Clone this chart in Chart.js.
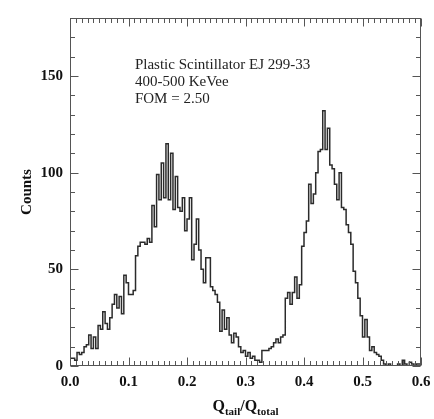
<!DOCTYPE html>
<html>
<head>
<meta charset="utf-8">
<script src="https://cdn.jsdelivr.net/npm/chart.js@4.4.0/dist/chart.umd.min.js"></script>
<style>
  html, body { margin: 0; padding: 0; background: #fff; }
  canvas { display: block; }
</style>
</head>
<body>
<canvas id="psd" width="434" height="419"></canvas>
<script>
// PSD histogram, EJ 299-33, 400-500 keVee
const BIN_WIDTH = 0.004;   // Q_tail/Q_total bin width
const counts = [
  4, 4, 4, 3, 7, 6, 7, 10, 11, 16,
  9, 15, 9, 21, 19, 28, 22, 19, 25, 32,
  37, 30, 36, 27, 47, 43, 37, 37, 39, 57,
  62, 64, 64, 63, 66, 64, 83, 72, 99, 86,
  105, 87, 115, 86, 110, 81, 98, 82, 80, 87,
  70, 76, 87, 55, 63, 76, 60, 50, 43, 56,
  56, 41, 39, 37, 33, 18, 29, 19, 25, 16,
  12, 17, 15, 10, 7, 8, 5, 7, 4, 5,
  3, 3, 2, 8, 8, 8, 9, 10, 12, 14,
  12, 15, 16, 35, 38, 32, 38, 46, 35, 42,
  62, 69, 75, 94, 84, 89, 100, 111, 112, 132,
  112, 123, 104, 102, 94, 86, 100, 82, 81, 73,
  69, 63, 49, 43, 35, 26, 15, 24, 15, 8,
  10, 7, 6, 5, 3, 1, 0, 1, 0, 0,
  0, 1, 0, 3, 1, 0, 2, 1, 0, 1
];
const xTicks = [0, 0.1, 0.2, 0.3, 0.4, 0.5, 0.6];
const yTicks = [0, 50, 100, 150];
const noteLines = ['Plastic Scintillator EJ 299-33', '400-500 KeVee', 'FOM = 2.50'];

const AXIS_COLOR = '#555';
const LINE_COLOR = '#2b2b2b';
const SERIF = '"Liberation Serif", "Times New Roman", serif';

// step points: left edge of each bin, plus closing edge
const points = counts.map((c, i) => ({ x: i * BIN_WIDTH, y: c }));
points.push({ x: counts.length * BIN_WIDTH, y: counts[counts.length - 1] });

const boxTicks = {
  id: 'boxTicks',
  afterDraw(chart) {
    const { ctx, chartArea: a, scales: { x, y } } = chart;
    const L = Math.round(a.left) + 0.5, R = Math.round(a.right) - 0.5;
    const T = Math.round(a.top) + 0.5, B = Math.round(a.bottom) - 0.5;
    ctx.save();
    ctx.strokeStyle = AXIS_COLOR;
    ctx.lineWidth = 1;
    ctx.strokeRect(L, T, R - L, B - T);

    ctx.beginPath();
    for (let k = 0; k <= 60; k++) {
      const px = Math.round(x.getPixelForValue(k / 100)) + 0.5;
      const len = k % 10 === 0 ? 8 : 4.5;
      ctx.moveTo(px, B); ctx.lineTo(px, B - len);
      ctx.moveTo(px, T); ctx.lineTo(px, T + len);
    }
    for (let k = 0; k <= 18; k++) {
      const py = Math.round(y.getPixelForValue(k * 10)) + 0.5;
      const len = k % 5 === 0 ? 8 : 4.5;
      ctx.moveTo(L, py); ctx.lineTo(L + len, py);
      ctx.moveTo(R, py); ctx.lineTo(R - len, py);
    }
    ctx.stroke();

    // note text
    ctx.fillStyle = '#222';
    ctx.font = '15px ' + SERIF;
    ctx.textBaseline = 'middle';
    ctx.textAlign = 'left';
    const nx = x.getPixelForValue(0.111);
    const ny = y.getPixelForValue(155.5);
    noteLines.forEach((t, i) => ctx.fillText(t, nx, ny + i * 17));

    // x title: Q_tail/Q_total
    const big = 'bold 16px ' + SERIF, small = 'bold 11px ' + SERIF;
    const parts = [['Q', big, 0], ['tail', small, 3.5], ['/Q', big, 0], ['total', small, 3.5]];
    let w = 0;
    parts.forEach(p => { ctx.font = p[1]; w += ctx.measureText(p[0]).width; });
    let cx = (a.left + a.right) / 2 - w / 2;
    const base = 411;
    ctx.textBaseline = 'alphabetic';
    ctx.fillStyle = '#111';
    parts.forEach(p => {
      ctx.font = p[1];
      ctx.fillText(p[0], cx, base + p[2]);
      cx += ctx.measureText(p[0]).width;
    });
    ctx.restore();
  }
};

new Chart(document.getElementById('psd'), {
  type: 'line',
  data: {
    datasets: [{
      data: points,
      stepped: 'after',
      borderColor: LINE_COLOR,
      borderWidth: 1.5,
      pointRadius: 0,
      fill: false
    }]
  },
  options: {
    responsive: false,
    animation: false,
    devicePixelRatio: 1,
    layout: { padding: { top: 18, right: 13, left: 0, bottom: 0 } },
    plugins: { legend: { display: false }, tooltip: { enabled: false } },
    scales: {
      x: {
        type: 'linear',
        min: 0,
        max: 0.6,
        grid: { display: false, drawTicks: false },
        border: { display: false },
        afterBuildTicks: s => { s.ticks = xTicks.map(v => ({ value: v })); },
        afterFit: s => { s.height = 53; s.paddingLeft = 0; s.paddingRight = 0; },
        ticks: {
          padding: 7,
          color: '#111',
          maxRotation: 0,
          font: { family: SERIF, size: 15, weight: 'bold' },
          callback: v => Number(v).toFixed(1)
        }
      },
      y: {
        type: 'linear',
        min: 0,
        max: 180,
        grid: { display: false, drawTicks: false },
        border: { display: false },
        afterBuildTicks: s => { s.ticks = yTicks.map(v => ({ value: v })); },
        afterFit: s => { s.width = 70; s.paddingTop = 0; s.paddingBottom = 0; },
        ticks: {
          padding: 7,
          color: '#111',
          font: { family: SERIF, size: 15, weight: 'bold' }
        },
        title: {
          display: true,
          text: 'Counts',
          color: '#111',
          padding: { top: 18, bottom: 0 },
          font: { family: SERIF, size: 15, weight: 'bold' }
        }
      }
    }
  },
  plugins: [boxTicks]
});
</script>
</body>
</html>
